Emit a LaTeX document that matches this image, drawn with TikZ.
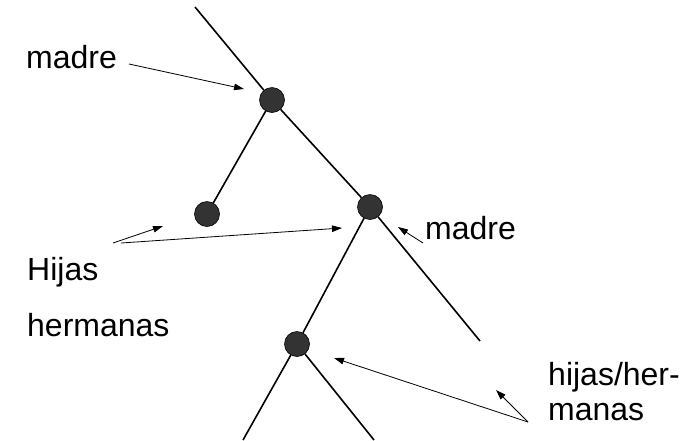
\documentclass[tikz,border=0pt]{standalone}
\usepackage{fontspec}
\setmainfont{Liberation Sans}
\usetikzlibrary{arrows.meta}

\tikzset{
  knot/.style={circle,draw=black,line width=0.6pt,fill=black!80,minimum size=25pt,inner sep=0pt},
  branch/.style={line width=1.6pt},
  pointer/.style={line width=0.8pt,-{Triangle[length=10pt,width=6.5pt]}},
  tag/.style={anchor=base west,inner sep=0pt,font=\fontsize{32}{35}\selectfont,align=left}
}

\begin{document}
\begin{tikzpicture}[x=1pt,y=-1pt]
\useasboundingbox (0,0) rectangle (692,440);

\coordinate (root) at (195,7);
\coordinate (endR) at (480,341);
\coordinate (leafL) at (243,440);
\coordinate (leafR) at (374,440);

\node[knot] (madre1) at (272,100) {};
\node[knot] (hija1) at (207,214) {};
\node[knot] (madre2) at (370,207) {};
\node[knot] (hija2) at (297,344) {};

\draw[branch] (root) -- (madre1) -- (madre2) -- (endR);
\draw[branch] (madre1) -- (hija1);
\draw[branch] (madre2) -- (hija2);
\draw[branch] (hija2) -- (leafL);
\draw[branch] (hija2) -- (leafR);

\node[tag] (madreA) at (26,68) {madre};
\node[tag] (madreB) at (425,239) {madre};
\node[tag] (hijas) at (27,280) {Hijas};
\node[tag] (hermanas) at (27,336) {hermanas};
\node[tag] (hijher) at (548,420) {hijas/her-\\manas};

\coordinate (fromA) at (129,64);
\coordinate (toA) at (244,89);
\coordinate (fromB) at (423,243);
\coordinate (toB) at (398,227);
\coordinate (fromH) at (113,243);
\coordinate (fromH2) at (121,243);
\coordinate (toH1) at (163,226);
\coordinate (toH2) at (342,228);
\coordinate (fromS) at (528,422);
\coordinate (toS1) at (496,390);
\coordinate (toS2) at (334,358);

\draw[pointer] (fromA) -- (toA);
\draw[pointer] (fromB) -- (toB);
\draw[pointer] (fromH) -- (toH1);
\draw[pointer] (fromH2) -- (toH2);
\draw[pointer] (fromS) -- (toS1);
\draw[pointer] (fromS) -- (toS2);

\end{tikzpicture}
\end{document}
